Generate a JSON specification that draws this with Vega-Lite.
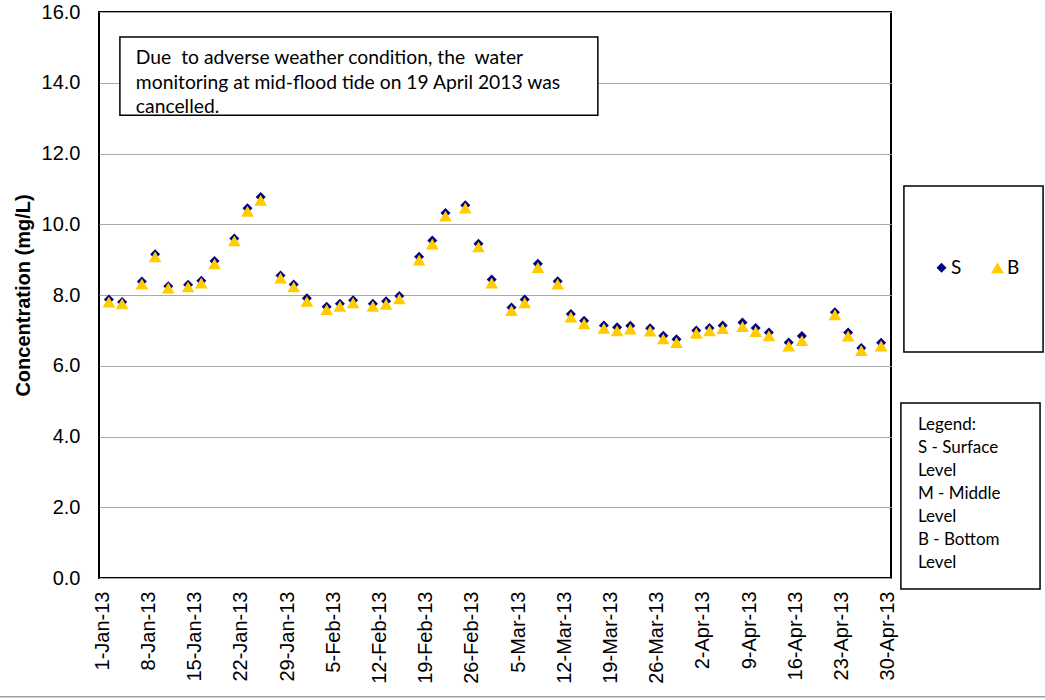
{
  "$schema": "https://vega.github.io/schema/vega-lite/v6.json",
  "autosize": "none",
  "width": 792,
  "height": 566,
  "padding": {"left": 99, "top": 12, "right": 154, "bottom": 122},
  "background": "white",
  "config": {
    "view": {"stroke": "black", "strokeWidth": 2},
    "font": "Liberation Sans"
  },
  "layer": [
    {
      "data": {"values": [
        {"date": "2013-01-02", "S": 7.87, "B": 7.80},
        {"date": "2013-01-04", "S": 7.80, "B": 7.75},
        {"date": "2013-01-07", "S": 8.38, "B": 8.31},
        {"date": "2013-01-09", "S": 9.15, "B": 9.08},
        {"date": "2013-01-11", "S": 8.25, "B": 8.20},
        {"date": "2013-01-14", "S": 8.29, "B": 8.23},
        {"date": "2013-01-16", "S": 8.40, "B": 8.34},
        {"date": "2013-01-18", "S": 8.96, "B": 8.88},
        {"date": "2013-01-21", "S": 9.60, "B": 9.53},
        {"date": "2013-01-23", "S": 10.45, "B": 10.37},
        {"date": "2013-01-25", "S": 10.77, "B": 10.68},
        {"date": "2013-01-28", "S": 8.55, "B": 8.48},
        {"date": "2013-01-30", "S": 8.30, "B": 8.23},
        {"date": "2013-02-01", "S": 7.91, "B": 7.82},
        {"date": "2013-02-04", "S": 7.67, "B": 7.59},
        {"date": "2013-02-06", "S": 7.75, "B": 7.68},
        {"date": "2013-02-08", "S": 7.85, "B": 7.78},
        {"date": "2013-02-11", "S": 7.75, "B": 7.68},
        {"date": "2013-02-13", "S": 7.82, "B": 7.74},
        {"date": "2013-02-15", "S": 7.97, "B": 7.89},
        {"date": "2013-02-18", "S": 9.08, "B": 8.99},
        {"date": "2013-02-20", "S": 9.54, "B": 9.44},
        {"date": "2013-02-22", "S": 10.32, "B": 10.23},
        {"date": "2013-02-25", "S": 10.54, "B": 10.46},
        {"date": "2013-02-27", "S": 9.45, "B": 9.36},
        {"date": "2013-03-01", "S": 8.44, "B": 8.34},
        {"date": "2013-03-04", "S": 7.65, "B": 7.56},
        {"date": "2013-03-06", "S": 7.87, "B": 7.78},
        {"date": "2013-03-08", "S": 8.88, "B": 8.78},
        {"date": "2013-03-11", "S": 8.39, "B": 8.31},
        {"date": "2013-03-13", "S": 7.46, "B": 7.38},
        {"date": "2013-03-15", "S": 7.27, "B": 7.19},
        {"date": "2013-03-18", "S": 7.14, "B": 7.06},
        {"date": "2013-03-20", "S": 7.09, "B": 6.99},
        {"date": "2013-03-22", "S": 7.13, "B": 7.04},
        {"date": "2013-03-25", "S": 7.06, "B": 6.98},
        {"date": "2013-03-27", "S": 6.85, "B": 6.76},
        {"date": "2013-03-29", "S": 6.75, "B": 6.66},
        {"date": "2013-04-01", "S": 7.00, "B": 6.92},
        {"date": "2013-04-03", "S": 7.07, "B": 6.99},
        {"date": "2013-04-05", "S": 7.14, "B": 7.05},
        {"date": "2013-04-08", "S": 7.22, "B": 7.11},
        {"date": "2013-04-10", "S": 7.07, "B": 6.97},
        {"date": "2013-04-12", "S": 6.94, "B": 6.85},
        {"date": "2013-04-15", "S": 6.66, "B": 6.56},
        {"date": "2013-04-17", "S": 6.84, "B": 6.71},
        {"date": "2013-04-22", "S": 7.51, "B": 7.44},
        {"date": "2013-04-24", "S": 6.94, "B": 6.84},
        {"date": "2013-04-26", "S": 6.50, "B": 6.43},
        {"date": "2013-04-29", "S": 6.65, "B": 6.56}
      ]},
      "transform": [{"fold": ["S", "B"], "as": ["level", "value"]}],
      "mark": {"type": "point", "filled": true, "opacity": 1, "strokeWidth": 0},
      "encoding": {
        "x": {
          "field": "date", "type": "temporal",
          "scale": {"type": "utc", "domain": [
            {"year": 2012, "month": 12, "date": 31, "hours": 12, "utc": true},
            {"year": 2013, "month": 4, "date": 30, "hours": 12, "utc": true}
          ]},
          "axis": {
            "title": null,
            "format": "%-d-%b-%y",
            "values": [
              {"year": 2013, "month": 1, "date": 1, "utc": true},
              {"year": 2013, "month": 1, "date": 8, "utc": true},
              {"year": 2013, "month": 1, "date": 15, "utc": true},
              {"year": 2013, "month": 1, "date": 22, "utc": true},
              {"year": 2013, "month": 1, "date": 29, "utc": true},
              {"year": 2013, "month": 2, "date": 5, "utc": true},
              {"year": 2013, "month": 2, "date": 12, "utc": true},
              {"year": 2013, "month": 2, "date": 19, "utc": true},
              {"year": 2013, "month": 2, "date": 26, "utc": true},
              {"year": 2013, "month": 3, "date": 5, "utc": true},
              {"year": 2013, "month": 3, "date": 12, "utc": true},
              {"year": 2013, "month": 3, "date": 19, "utc": true},
              {"year": 2013, "month": 3, "date": 26, "utc": true},
              {"year": 2013, "month": 4, "date": 2, "utc": true},
              {"year": 2013, "month": 4, "date": 9, "utc": true},
              {"year": 2013, "month": 4, "date": 16, "utc": true},
              {"year": 2013, "month": 4, "date": 23, "utc": true},
              {"year": 2013, "month": 4, "date": 30, "utc": true}
            ],
            "labelAngle": -90,
            "labelAlign": "right",
            "labelBaseline": "middle",
            "labelFontSize": 20,
            "labelColor": "black",
            "labelPadding": 13,
            "labelOverlap": false,
            "labelBound": false,
            "labelFlush": false,
            "ticks": false,
            "grid": false,
            "domain": false
          }
        },
        "y": {
          "field": "value", "type": "quantitative",
          "scale": {"domain": [0, 16], "nice": false},
          "axis": {
            "title": "Concentration (mg/L)",
            "titleFontSize": 20,
            "titleFontWeight": "bold",
            "titleColor": "black",
            "titlePadding": 8,
            "values": [0, 2, 4, 6, 8, 10, 12, 14, 16],
            "format": ".1f",
            "labelFontSize": 20,
            "labelColor": "black",
            "labelPadding": 19,
            "ticks": false,
            "domain": false,
            "grid": true,
            "gridColor": "#aaaaaa",
            "gridWidth": 1.2
          }
        },
        "color": {
          "field": "level", "type": "nominal",
          "scale": {"domain": ["S", "B"], "range": ["#000080", "#FFCC00"]},
          "legend": {
            "title": null,
            "orient": "none",
            "legendX": 833,
            "legendY": 246,
            "direction": "horizontal",
            "labelFont": "Lato",
            "labelFontSize": 19,
            "labelColor": "black",
            "labelOffset": 0,
            "columnPadding": 26,
            "symbolSize": 100,
            "symbolStrokeWidth": 0
          }
        },
        "shape": {
          "field": "level", "type": "nominal",
          "scale": {"domain": ["S", "B"], "range": ["diamond", "triangle-up"]}
        },
        "size": {
          "field": "level", "type": "nominal",
          "scale": {"domain": ["S", "B"], "range": [100, 160]},
          "legend": null
        }
      }
    },
    {
      "data": {"values": [
        {"x": "2013-01-03T16:00:00Z", "x2": "2013-03-17T02:00:00Z", "y": 15.29, "y2": 13.08},
        {"x": "2013-05-02T11:00:00Z", "x2": "2013-05-23T13:00:00Z", "y": 11.08, "y2": 6.39},
        {"x": "2013-05-02T00:00:00Z", "x2": "2013-05-23T02:00:00Z", "y": 4.95, "y2": -0.31}
      ]},
      "mark": {"type": "rect", "fill": "white", "stroke": "black", "strokeWidth": 1.5, "clip": false},
      "encoding": {
        "x": {"field": "x", "type": "temporal"},
        "x2": {"field": "x2"},
        "y": {"field": "y", "type": "quantitative"},
        "y2": {"field": "y2"}
      }
    },
    {
      "data": {"values": [
        {"x": "2013-01-06T02:00:00Z", "y": 14.95, "t": "Due \u00a0to adverse weather condition, the \u00a0water\nmonitoring at mid-flood tide on 19 April 2013 was\ncancelled."}
      ]},
      "mark": {"type": "text", "align": "left", "baseline": "top", "font": "Lato", "fontSize": 19.3, "lineHeight": 24.5, "lineBreak": "\n", "color": "black", "clip": false},
      "encoding": {
        "x": {"field": "x", "type": "temporal"},
        "y": {"field": "y", "type": "quantitative"},
        "text": {"field": "t"}
      }
    },
    {
      "data": {"values": [
        {"x": "2013-05-04T14:00:00Z", "y": 4.55, "t": "Legend:\nS - Surface\nLevel\nM - Middle\nLevel\nB - Bottom\nLevel"}
      ]},
      "mark": {"type": "text", "align": "left", "baseline": "top", "font": "Lato", "fontSize": 17, "lineHeight": 23, "lineBreak": "\n", "color": "black", "clip": false},
      "encoding": {
        "x": {"field": "x", "type": "temporal"},
        "y": {"field": "y", "type": "quantitative"},
        "text": {"field": "t"}
      }
    },
    {
      "data": {"values": [
        {"x": "2012-12-16T00:00:00Z", "x2": "2013-05-25T00:00:00Z", "y": -3.36}
      ]},
      "mark": {"type": "rule", "color": "#a0a0a0", "strokeWidth": 1.5, "clip": false},
      "encoding": {
        "x": {"field": "x", "type": "temporal"},
        "x2": {"field": "x2"},
        "y": {"field": "y", "type": "quantitative"}
      }
    }
  ]
}
